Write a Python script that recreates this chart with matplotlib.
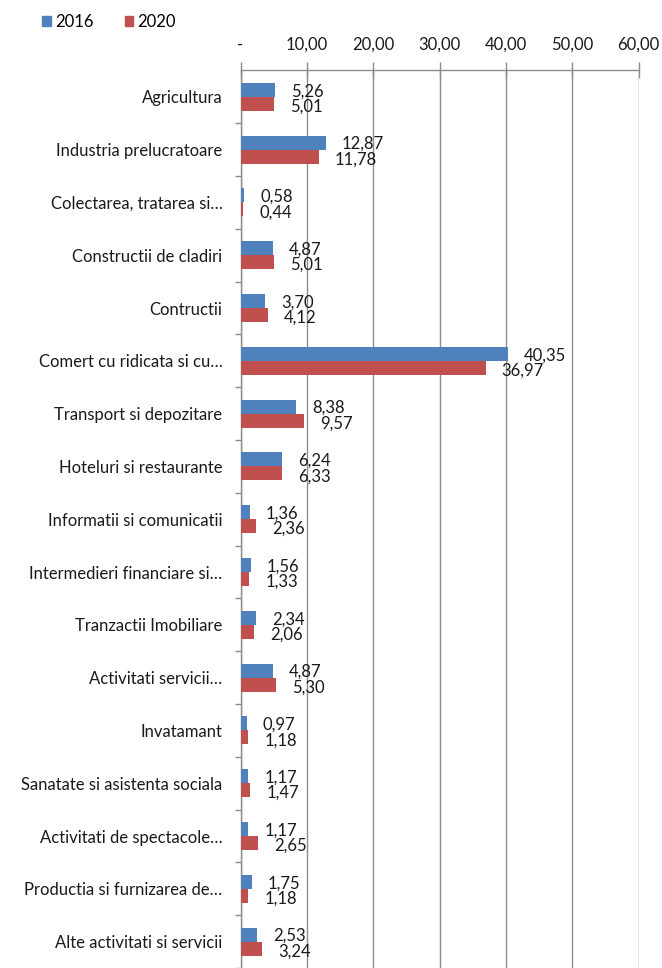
import matplotlib
matplotlib.use("Agg")
import matplotlib.pyplot as plt
from matplotlib.patches import Patch
import numpy as np

plt.rcParams['font.family'] = ['Lato', 'DejaVu Sans']

categories = [
    "Agricultura", "Industria prelucratoare", "Colectarea, tratarea si…",
    "Constructii de cladiri", "Contructii", "Comert cu ridicata si cu…",
    "Transport si depozitare", "Hoteluri si restaurante", "Informatii si comunicatii",
    "Intermedieri financiare si…", "Tranzactii Imobiliare", "Activitati servicii…",
    "Invatamant", "Sanatate si asistenta sociala", "Activitati de spectacole…",
    "Productia si furnizarea de…", "Alte activitati si servicii",
]
v2016 = [5.26, 12.87, 0.58, 4.87, 3.70, 40.35, 8.38, 6.24, 1.36, 1.56, 2.34, 4.87, 0.97, 1.17, 1.17, 1.75, 2.53]
v2020 = [5.01, 11.78, 0.44, 5.01, 4.12, 36.97, 9.57, 6.33, 2.36, 1.33, 2.06, 5.30, 1.18, 1.47, 2.65, 1.18, 3.24]
xticks = [0, 10, 20, 30, 40, 50, 60]
xticklabels = ["-", "10,00", "20,00", "30,00", "40,00", "50,00", "60,00"]
series_names = ["2016", "2020"]

c16 = "#4F81BD"
c20 = "#C0504D"
grid_c = "#8C8C8C"
txt_c = "#1a1a1a"

W, H = 662, 968
fig = plt.figure(figsize=(W / 100, H / 100), dpi=100)
left, right, top = 240.5, 638.5, 70
ax = fig.add_axes([left / W, 0, (right - left) / W, 1 - top / H])

y = np.arange(len(categories))
bh = 0.265
ax.barh(y - bh / 2, v2016, height=bh, color=c16, zorder=3)
ax.barh(y + bh / 2, v2020, height=bh, color=c20, zorder=3)

fs = 12
for yi, a, b in zip(y, v2016, v2020):
    ax.annotate(f"{a:.2f}".replace(".", ","), (a, yi - bh / 2), xytext=(11.5, -1.0),
                textcoords="offset points", ha="left", va="center", fontsize=fs, color=txt_c)
    ax.annotate(f"{b:.2f}".replace(".", ","), (b, yi + bh / 2), xytext=(11.5, -2.0),
                textcoords="offset points", ha="left", va="center", fontsize=fs, color=txt_c)

ax.set_xlim(0, 60)
ax.set_ylim((H - 97) / 53, -(97 - top) / 53)

ax.xaxis.tick_top()
ax.set_xticks(xticks)
ax.set_xticklabels(xticklabels, fontsize=fs, color=txt_c)
ax.tick_params(axis="x", direction="inout", length=11, width=1, color=grid_c, pad=7)
ax.grid(axis="x", color=grid_c, lw=1, zorder=0)

ax.set_yticks(y)
ax.set_yticklabels(categories, fontsize=fs, color=txt_c)
ax.set_yticks(np.arange(len(categories)) + 0.5, minor=True)
ax.tick_params(axis="y", which="major", length=0, pad=13)
ax.tick_params(axis="y", which="minor", direction="out", length=4, width=1, color=grid_c)

for s in ["right", "bottom"]:
    ax.spines[s].set_visible(False)
for s in ["top", "left"]:
    ax.spines[s].set_color(grid_c)
    ax.spines[s].set_linewidth(1)

handles = [Patch(color=c16), Patch(color=c20)]
fig.legend(handles, series_names, loc="center left", bbox_to_anchor=(34 / W, 1 - 22 / H),
           ncol=2, frameon=False, fontsize=fs, handlelength=0.5, handleheight=0.5,
           handletextpad=0.25, columnspacing=1.9, borderpad=0)

fig.savefig("out.png", dpi=100)
